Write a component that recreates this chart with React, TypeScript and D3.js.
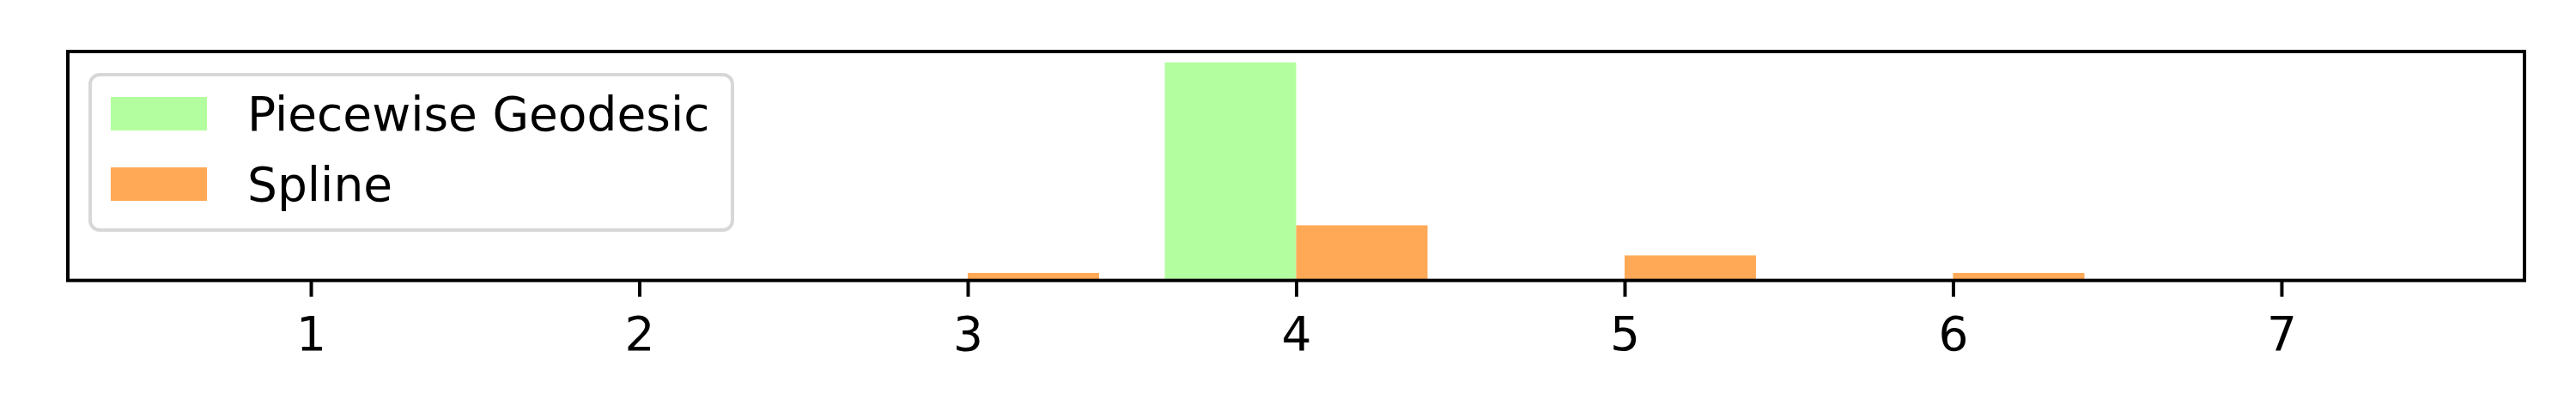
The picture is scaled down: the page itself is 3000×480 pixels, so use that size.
import React, { useEffect, useRef } from 'react';
import * as d3 from 'd3';

// bin positions on the x axis
const categories = [1, 2, 3, 4, 5, 6, 7];
// bar heights per series (no y scale shown, read as relative counts)
const piecewiseGeodesic = [0, 0, 0, 87, 0, 0, 0];
const spline = [0, 0, 3, 22, 10, 3, 0];
const seriesNames = ['Piecewise Geodesic', 'Spline'];
const seriesColors = ['#b3ffa0', '#ffa957'];

const BAR_W = 0.4;
const FONT = '"DejaVu Sans", sans-serif';

const App = () => {
  const svgRef = useRef<SVGSVGElement>(null);
  const width = 3000;
  const height = 480;

  useEffect(() => {
    const svg = d3.select(svgRef.current);
    svg.selectAll('*').remove();

    const margin = { top: 60, right: 60, bottom: 153.3, left: 79 };
    const innerWidth = width - margin.left - margin.right;
    const innerHeight = height - margin.top - margin.bottom;

    const g = svg
      .append('g')
      .attr('transform', `translate(${margin.left},${margin.top})`);

    // matplotlib style 5% margins around the bars
    const lo = d3.min(categories)! - BAR_W;
    const hi = d3.max(categories)! + BAR_W;
    const pad = (hi - lo) * 0.05;
    const x = d3.scaleLinear().domain([lo - pad, hi + pad]).range([0, innerWidth]);

    const ymax = d3.max([...piecewiseGeodesic, ...spline])!;
    const y = d3.scaleLinear().domain([0, ymax * 1.05]).range([innerHeight, 0]);

    const series = [
      { name: seriesNames[0], values: piecewiseGeodesic, offset: -BAR_W, color: seriesColors[0] },
      { name: seriesNames[1], values: spline, offset: 0, color: seriesColors[1] },
    ];

    series.forEach((s) => {
      g.append('g')
        .selectAll('rect')
        .data(categories.map((c, i) => ({ c, v: s.values[i] })).filter((d) => d.v > 0))
        .join('rect')
        .attr('x', (d) => x(d.c + s.offset))
        .attr('width', (d) => x(d.c + s.offset + BAR_W) - x(d.c + s.offset))
        .attr('y', (d) => y(d.v))
        .attr('height', (d) => y(0) - y(d.v))
        .attr('fill', s.color);
    });

    // x axis
    const xAxis = g
      .append('g')
      .attr('transform', `translate(0,${innerHeight})`)
      .call(d3.axisBottom(x).tickValues(categories).tickFormat(d3.format('d')).tickSize(19).tickPadding(23));
    xAxis.select('.domain').remove();
    xAxis.selectAll('line').attr('stroke', '#000').attr('stroke-width', 4);
    xAxis
      .selectAll('text')
      .attr('font-family', FONT)
      .attr('font-size', 55)
      .attr('fill', '#000');

    // frame
    g.append('rect')
      .attr('x', 0)
      .attr('y', 0)
      .attr('width', innerWidth)
      .attr('height', innerHeight)
      .attr('fill', 'none')
      .attr('stroke', '#000')
      .attr('stroke-width', 4);

    // legend
    const legend = svg.append('g').attr('transform', 'translate(105,87)');
    legend
      .append('rect')
      .attr('width', 748)
      .attr('height', 181)
      .attr('rx', 11)
      .attr('fill', 'rgba(255,255,255,0.8)')
      .attr('stroke', '#d7d7d7')
      .attr('stroke-width', 4);

    series.forEach((s, i) => {
      const row = legend.append('g').attr('transform', `translate(0,${i * 82})`);
      row
        .append('rect')
        .attr('x', 24)
        .attr('y', 26)
        .attr('width', 112)
        .attr('height', 39)
        .attr('fill', s.color);
      row
        .append('text')
        .attr('x', 183)
        .attr('y', 65)
        .attr('font-family', FONT)
        .attr('font-size', 55)
        .attr('fill', '#000')
        .text(s.name);
    });
  }, []);

  return (
    <svg
      ref={svgRef}
      width={width}
      height={height}
      style={{ position: 'absolute', left: 0, top: 0, background: '#fff' }}
    />
  );
};

export default App;
